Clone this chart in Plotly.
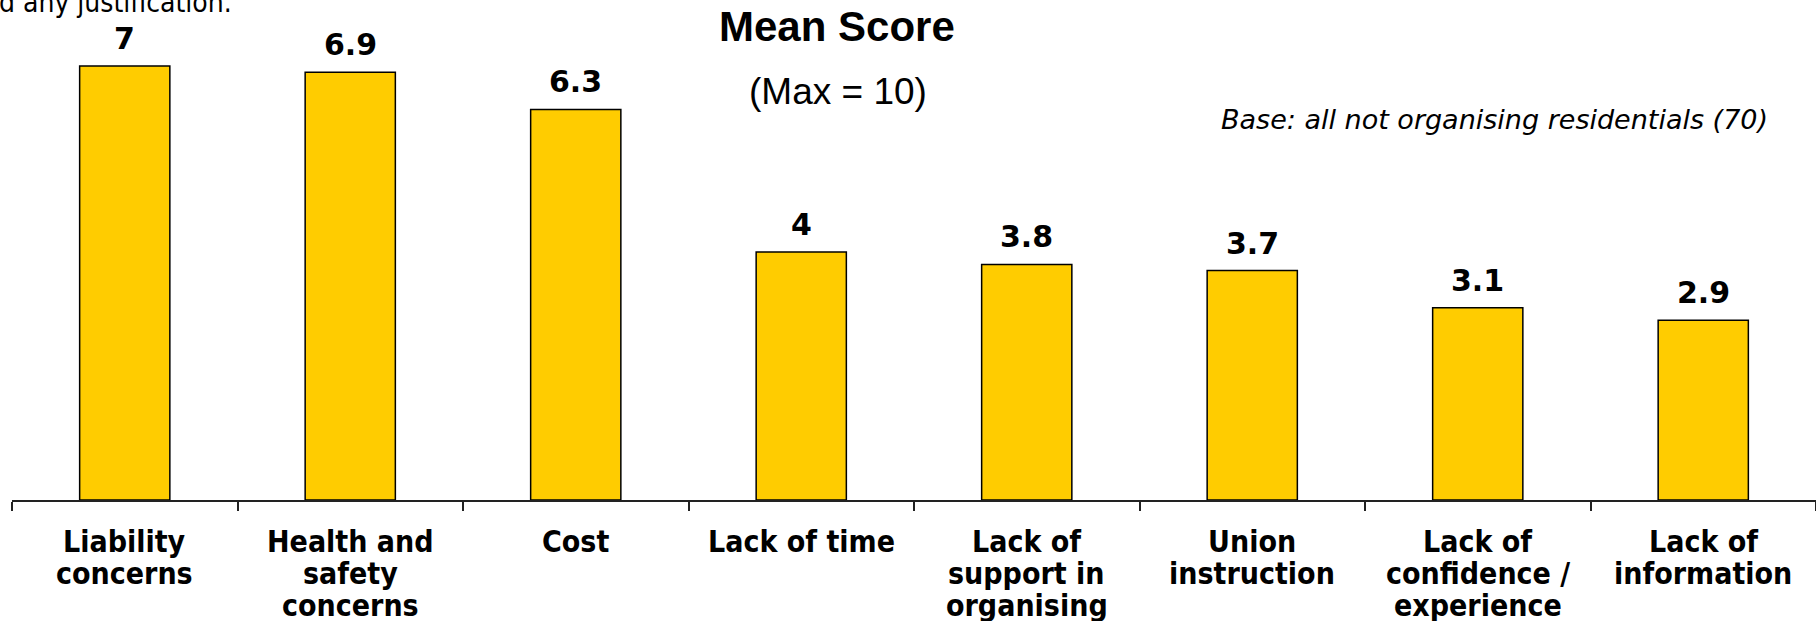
import plotly.graph_objects as go

categories = ["Liability concerns", "Health and safety concerns", "Cost", "Lack of time",
              "Lack of support in organising", "Union instruction",
              "Lack of confidence / experience", "Lack of information"]
tick_labels = ["Liability<br>concerns", "Health and<br>safety<br>concerns", "Cost", "Lack of time",
               "Lack of<br>support in<br>organising", "Union<br>instruction",
               "Lack of<br>confidence /<br>experience", "Lack of<br>information"]
mean_scores = [7, 6.9, 6.3, 4, 3.8, 3.7, 3.1, 2.9]
value_labels = ["7", "6.9", "6.3", "4", "3.8", "3.7", "3.1", "2.9"]

W, H = 1816, 621
ML, MR, MT, MB = 12, 0, 0, 121
PW, PH = W - ML - MR, H - MT - MB

VERDANA_C = "DejaVu Sans Condensed, DejaVu Sans, Verdana, sans-serif"
VERDANA = "DejaVu Sans, Verdana, sans-serif"
ARIAL = "Liberation Sans, Arial, sans-serif"

def px_x(px):
    return (px - ML) / PW

def px_y(py):
    return 1 - (py - MT) / PH

fig = go.Figure()
fig.add_trace(go.Bar(
    x=categories, y=mean_scores,
    marker=dict(color="#FFCC00", line=dict(color="#000000", width=1.5)),
    hoverinfo="skip",
))

annotations = []
# value labels above bars
for c, v, t in zip(categories, mean_scores, value_labels):
    annotations.append(dict(x=c, y=v, xref="x", yref="y", text=t, showarrow=False,
                            yanchor="bottom", yshift=8,
                            font=dict(family=VERDANA, size=30, color="#000000", weight="bold")))

# category labels below axis, one annotation per line for exact line spacing
LINE_H = 32.4
FIRST_CENTER = 541  # pixel y of first line centre
for c, lab in zip(categories, tick_labels):
    for i, line in enumerate(lab.split("<br>")):
        annotations.append(dict(x=c, y=px_y(FIRST_CENTER + LINE_H * i), xref="x", yref="paper",
                                text=line, showarrow=False, xanchor="center", yanchor="middle",
                                font=dict(family=VERDANA_C, size=30, color="#000000", weight="bold")))

annotations += [
    dict(x=px_x(837), y=px_y(26), xref="paper", yref="paper", text="<b>Mean Score</b>",
         showarrow=False, xanchor="center", yanchor="middle",
         font=dict(family=ARIAL, size=42, color="#000000")),
    dict(x=px_x(838), y=px_y(92), xref="paper", yref="paper", text="(Max = 10)",
         showarrow=False, xanchor="center", yanchor="middle",
         font=dict(family=ARIAL, size=37, color="#000000")),
    dict(x=px_x(1770), y=px_y(119), xref="paper", yref="paper",
         text="<i>Base: all not organising residentials (70)</i>",
         showarrow=False, xanchor="right", yanchor="middle",
         font=dict(family=VERDANA, size=27, color="#000000")),
    dict(x=px_x(-3), y=px_y(2), xref="paper", yref="paper",
         text="d any justification.",
         showarrow=False, xanchor="left", yanchor="middle",
         font=dict(family=VERDANA_C, size=28, color="#000000")),
]

fig.update_layout(
    width=W, height=H,
    margin=dict(l=ML, r=MR, t=MT, b=MB, pad=0),
    paper_bgcolor="white", plot_bgcolor="white",
    showlegend=False, bargap=0.6,
    annotations=annotations,
    xaxis=dict(
        tickvals=categories, showticklabels=False,
        tickson="boundaries", ticks="outside", ticklen=9, tickwidth=2, tickcolor="#222222",
        showline=True, linecolor="#222222", linewidth=2,
        showgrid=False, zeroline=False, automargin=False,
    ),
    yaxis=dict(range=[0, PH / 62.0], visible=False, showgrid=False, zeroline=False),
)

fig.write_html("out.html")
